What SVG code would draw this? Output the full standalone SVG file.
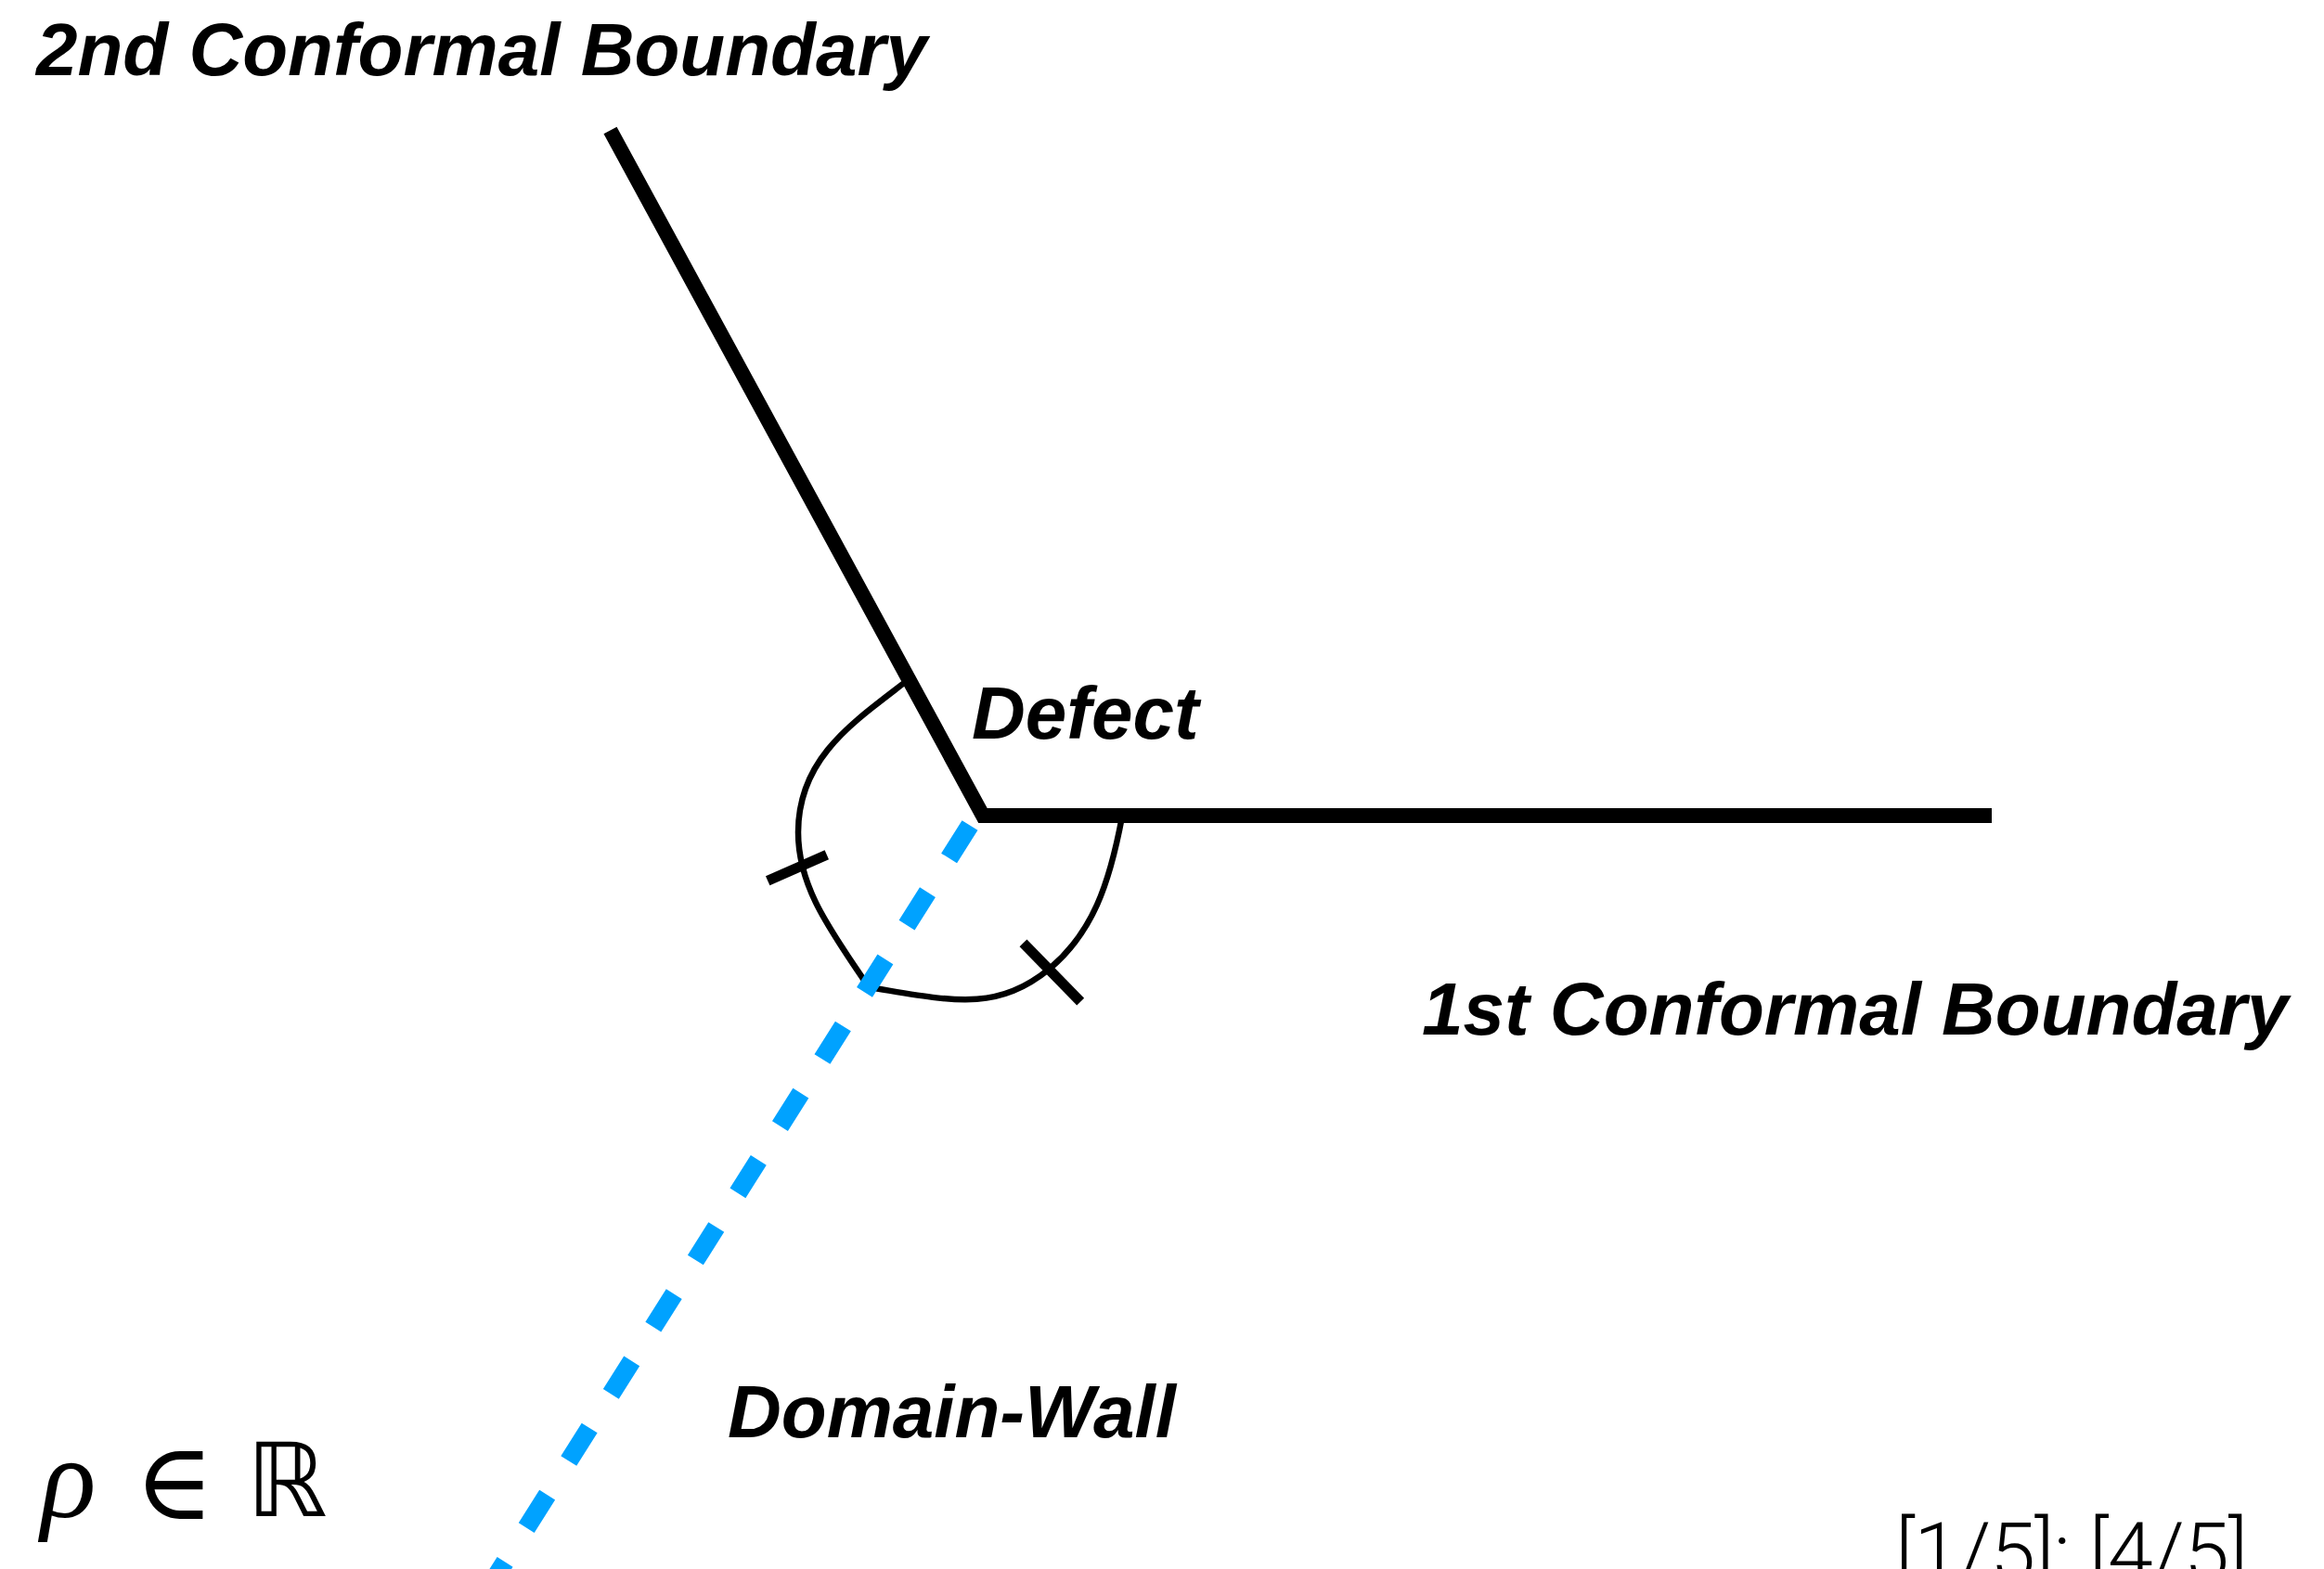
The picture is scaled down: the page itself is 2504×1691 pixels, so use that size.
<svg xmlns="http://www.w3.org/2000/svg" width="2504" height="1691" viewBox="0 0 2504 1691">
  <style>
    .label { font-family: "Liberation Sans", Arial, sans-serif; font-weight: bold; font-style: italic; font-size: 80px; fill: #000; }
    .boundary { fill: none; stroke: #000; stroke-width: 16; stroke-linecap: butt; stroke-linejoin: miter; stroke-miterlimit: 10; }
    .wall { fill: none; stroke: #00A2FF; stroke-width: 20; stroke-linecap: butt; stroke-dasharray: 42 43.33; }
    .arc { fill: none; stroke: #000; stroke-width: 6.5; stroke-linecap: butt; }
    .tick { fill: none; stroke: #000; stroke-width: 11; stroke-linecap: butt; }
  </style>
  <rect width="2504" height="1691" fill="#fff"/>

  <!-- boundaries meeting at the defect -->
  <g id="boundaries">
    <polyline class="boundary" points="657.5,140.5 1059,879 2146,879"/>
  </g>

  <!-- angle arcs with their tick marks -->
  <g id="angle-arcs">
    <path class="arc" d="M978,733 C918.8,778.8 860,817 860,897 C860,957 895.8,1003.8 934,1061"/>
    <path class="arc" d="M936,1064 C1025.1,1078.4 1072.2,1091.6 1131,1044 C1177,1005 1195.2,953.7 1209,880"/>
    <line class="tick" x1="827.2" y1="949.2" x2="890.8" y2="921.2"/>
    <line class="tick" x1="1102.5" y1="1016.3" x2="1164.2" y2="1079.7"/>
  </g>

  <!-- domain wall -->
  <g id="connectors">
    <path class="wall" d="M1045,889.5 L532,1702.5"/>
  </g>

  <g id="label-2nd-boundary"><text class="label" x="39" y="81">2nd Conformal Boundary</text></g>
  <g id="label-defect"><text class="label" x="1047" y="796">Defect</text></g>
  <g id="label-1st-boundary"><text class="label" x="1532" y="1115">1st Conformal Boundary</text></g>
  <g id="label-domain-wall"><text class="label" x="784" y="1549">Domain-Wall</text></g>

  <!-- formula -->
  <g id="formula">
    <text x="44" y="1635" font-family="Liberation Serif, serif" font-style="italic" font-size="124">ρ</text>
    <text x="188" y="1637" font-family="DejaVu Serif, serif" font-size="116" text-anchor="middle">∈</text>
    <text x="309" y="1634" font-family="DejaVu Sans, sans-serif" font-size="110" text-anchor="middle">ℝ</text>
  </g>

  <g id="page-indicator">
    <text x="2042" y="1703" font-family="Roboto, Liberation Sans, sans-serif" font-weight="300" font-size="88" textLength="380" lengthAdjust="spacing">[1/5]: [4/5]</text>
  </g>
</svg>
